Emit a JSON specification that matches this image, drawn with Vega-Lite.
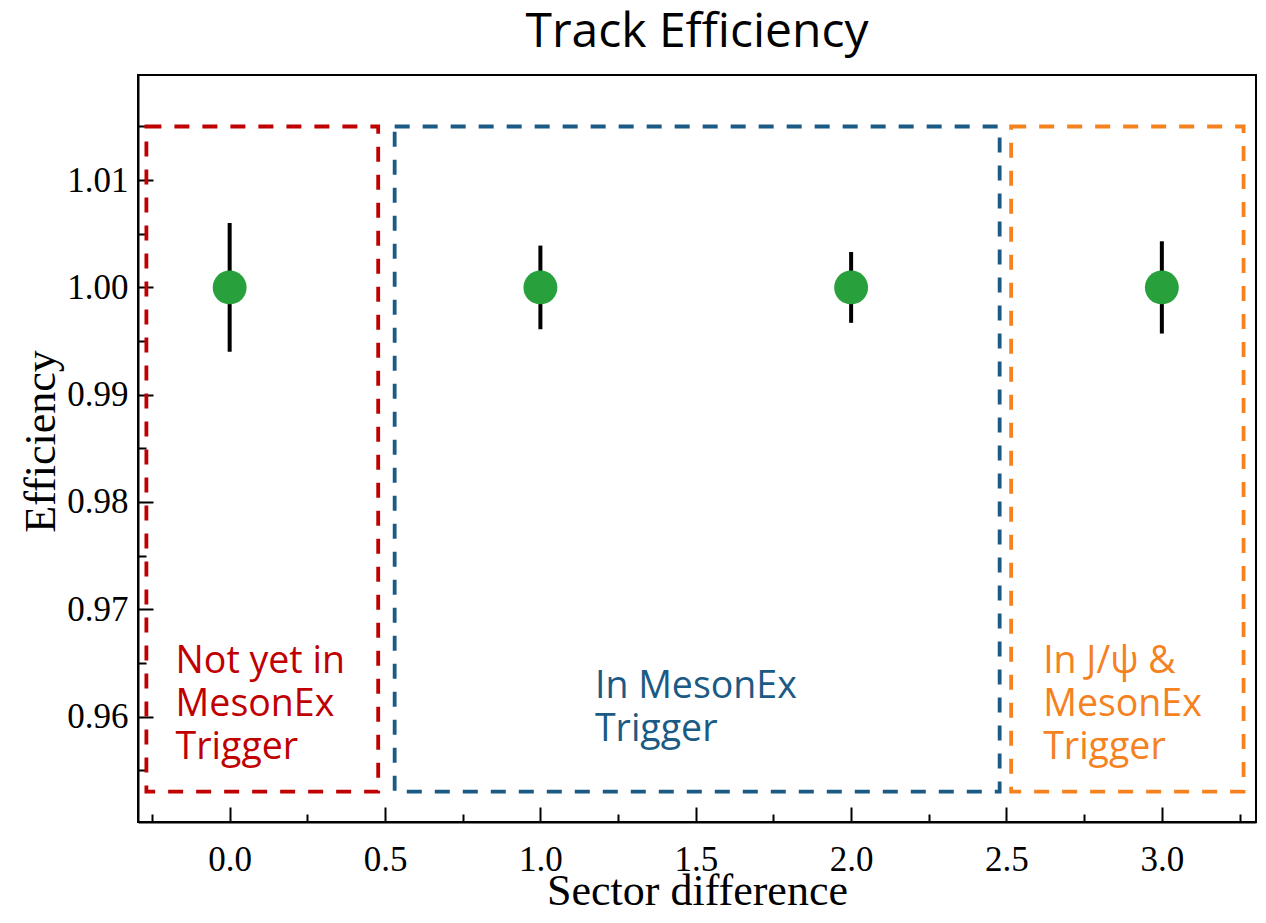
{
  "$schema": "https://vega.github.io/schema/vega-lite/v6.json",
  "width": 1118,
  "height": 747,
  "autosize": {"type": "none"},
  "padding": {"left": 138, "top": 75, "right": 10, "bottom": 101},
  "background": "white",
  "config": {"view": {"stroke": "black", "strokeWidth": 2}},
  "title": {"text": "Track Efficiency", "font": "Open Sans", "fontSize": 48, "fontWeight": "normal", "color": "black", "offset": 18, "anchor": "middle"},
  "datasets": {
    "points": [
      {"sector": 0, "eff": 1.0, "lo": 0.9940, "hi": 1.0060},
      {"sector": 1, "eff": 1.0, "lo": 0.9961, "hi": 1.0039},
      {"sector": 2, "eff": 1.0, "lo": 0.9967, "hi": 1.0033},
      {"sector": 3, "eff": 1.0, "lo": 0.9957, "hi": 1.0043}
    ],
    "regions": [
      {"group": "not", "x1": -0.268, "x2": 0.478, "y1": 0.953, "y2": 1.015, "tx": -0.174, "ty": 0.96405, "label": "Not yet in\nMesonEx\nTrigger"},
      {"group": "in", "x1": 0.531, "x2": 2.478, "y1": 0.953, "y2": 1.015, "tx": 1.1755, "ty": 0.96175, "label": "In MesonEx\nTrigger"},
      {"group": "jpsi", "x1": 2.515, "x2": 3.263, "y1": 0.953, "y2": 1.015, "tx": 2.618, "ty": 0.96403, "label": "In J/ψ &\nMesonEx\nTrigger"}
    ]
  },
  "resolve": {"axis": {"x": "independent", "y": "independent"}},
  "layer": [
    {
      "data": {"name": "regions"},
      "mark": {"type": "rect", "fill": null, "fillOpacity": 0, "strokeWidth": 3.8, "strokeDash": [15, 13]},
      "encoding": {
        "x": {"field": "x1", "type": "quantitative", "scale": {"domain": [-0.295, 3.303], "nice": false, "zero": false}, "axis": null},
        "x2": {"field": "x2"},
        "y": {"field": "y1", "type": "quantitative", "scale": {"domain": [0.95017, 1.0198], "nice": false, "zero": false}, "axis": null},
        "y2": {"field": "y2"},
        "stroke": {"field": "group", "type": "nominal", "scale": {"domain": ["not", "in", "jpsi"], "range": ["#C00000", "#1B5A84", "#F5821F"]}, "legend": null}
      }
    },
    {
      "data": {"name": "regions"},
      "mark": {"type": "text", "font": "Open Sans", "fontSize": 37.5, "align": "left", "baseline": "alphabetic", "lineBreak": "\n", "lineHeight": 43},
      "encoding": {
        "x": {"field": "tx", "type": "quantitative", "scale": {"domain": [-0.295, 3.303], "nice": false, "zero": false}, "axis": null},
        "y": {"field": "ty", "type": "quantitative", "scale": {"domain": [0.95017, 1.0198], "nice": false, "zero": false}, "axis": null},
        "text": {"field": "label", "type": "nominal"},
        "color": {"field": "group", "type": "nominal", "scale": {"domain": ["not", "in", "jpsi"], "range": ["#C00000", "#1B5A84", "#F5821F"]}, "legend": null}
      }
    },
    {
      "data": {"name": "points"},
      "mark": {"type": "rule", "color": "black", "strokeWidth": 4},
      "encoding": {
        "x": {"field": "sector", "type": "quantitative", "scale": {"domain": [-0.295, 3.303], "nice": false, "zero": false},
          "axis": {"orient": "bottom", "values": [-0.25, 0.25, 0.75, 1.25, 1.75, 2.25, 2.75, 3.25], "labels": false, "title": null, "domain": false, "grid": false, "tickSize": -8, "tickWidth": 2, "tickColor": "black"}},
        "y": {"field": "lo", "type": "quantitative", "scale": {"domain": [0.95017, 1.0198], "nice": false, "zero": false},
          "axis": {"orient": "left", "values": [0.955, 0.965, 0.975, 0.985, 0.995, 1.005, 1.015], "labels": false, "title": null, "domain": false, "grid": false, "tickSize": -8, "tickWidth": 2, "tickColor": "black"}},
        "y2": {"field": "hi"}
      }
    },
    {
      "data": {"name": "points"},
      "mark": {"type": "circle", "color": "#28A03C", "opacity": 1, "size": 1150},
      "encoding": {
        "x": {"field": "sector", "type": "quantitative", "scale": {"domain": [-0.295, 3.303], "nice": false, "zero": false},
          "axis": {"orient": "bottom", "values": [0, 0.5, 1, 1.5, 2, 2.5, 3], "format": ".1f", "grid": false, "tickSize": -15, "tickWidth": 2, "tickColor": "black", "domainColor": "black", "domainWidth": 2,
            "labelFont": "Liberation Serif", "labelFontSize": 35, "labelColor": "black", "labelPadding": 63, "labelBaseline": "alphabetic",
            "title": "Sector difference", "titleFont": "Liberation Serif", "titleFontSize": 44, "titleFontWeight": "normal", "titleColor": "black", "titleBaseline": "alphabetic", "titleY": 82}},
        "y": {"field": "eff", "type": "quantitative", "scale": {"domain": [0.95017, 1.0198], "nice": false, "zero": false},
          "axis": {"orient": "left", "values": [0.96, 0.97, 0.98, 0.99, 1.0, 1.01], "format": ".2f", "grid": false, "tickSize": -15, "tickWidth": 2, "tickColor": "black", "domainColor": "black", "domainWidth": 2,
            "labelFont": "Liberation Serif", "labelFontSize": 35, "labelColor": "black", "labelPadding": 25,
            "title": "Efficiency", "titleFont": "Liberation Serif", "titleFontSize": 44, "titleFontWeight": "normal", "titleColor": "black", "titleBaseline": "alphabetic", "titleX": -84, "titleY": 366, "titleAngle": -90}}
      }
    }
  ]
}
